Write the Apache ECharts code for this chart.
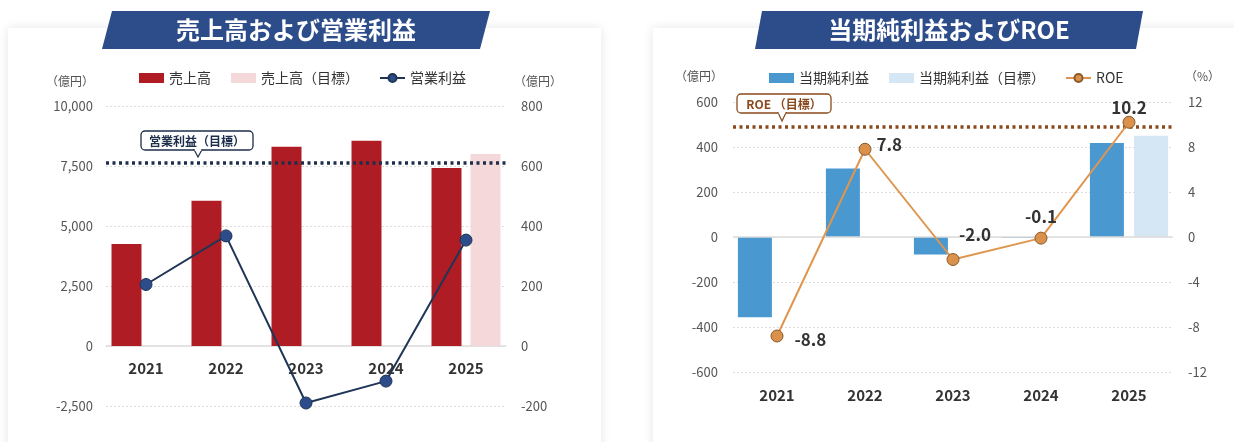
<!DOCTYPE html>
<html><head><meta charset="utf-8">
<script src="https://cdn.jsdelivr.net/npm/echarts@6/dist/echarts.min.js"></script>
<style>html,body{margin:0;padding:0;background:#fff;}#c{width:1234px;height:442px;}</style>
</head><body><div id="c"></div>
<script>
// ---- data ----
const years = ['2021','2022','2023','2024','2025'];
// left chart (億円)
const sales = [4250, 6050, 8300, 8550, 7420];
const salesTarget = [null, null, null, null, 8000];
const opProfit = [205, 367, -190, -117, 353];
const opProfitTargetLevel = 610;
// right chart
const netIncome = [-357, 304, -78, -3, 418];
const netIncomeTarget = [null, null, null, null, 450];
const roe = [-8.8, 7.8, -2.0, -0.1, 10.2];
const roeTargetLevel = 9.8;
// ticks
const leftTicks = {min: -2500, max: 10000, interval: 2500};
const leftTicksR = {min: -200, max: 800, interval: 200};
const rightTicks = {min: -600, max: 600, interval: 200};
const rightTicksR = {min: -12, max: 12, interval: 4};

const FONT = '"Noto Sans CJK JP", "Noto Sans", sans-serif';
const chart = echarts.init(document.getElementById('c'), null, {renderer: 'canvas'});
const axisLbl = {color: '#555', fontSize: 13, fontFamily: FONT};
const catLbl = {color: '#333', fontSize: 15, fontWeight: 'bold', fontFamily: FONT};
const split = {show: true, lineStyle: {color: '#dcdcdc', type: [2, 2], width: 1}};

const roeLabelCfg = [
  {position: 'right', offset: [6, 4]},
  {position: 'right', offset: [0, -5]},
  {position: 'top', offset: [22, -5]},
  {position: 'top', offset: [0, -2]},
  {position: 'top', offset: [0, 5]}
];

const option = {
  animation: false,
  textStyle: {fontFamily: FONT},
  graphic: [
    {type: 'rect', shape: {x: 8, y: 28, width: 593, height: 430}, style: {fill: '#fff', shadowBlur: 10, shadowColor: 'rgba(0,0,0,0.10)'}, z: -10},
    {type: 'rect', shape: {x: 653, y: 28, width: 600, height: 430}, style: {fill: '#fff', shadowBlur: 10, shadowColor: 'rgba(0,0,0,0.10)'}, z: -10},
    {type: 'polygon', shape: {points: [[112, 11], [490, 11], [480, 49], [102, 49]]}, style: {fill: '#2c4c8a'}},
    {type: 'text', x: 296, y: 30, style: {text: '売上高および営業利益', fill: '#fff', font: 'bold 24px ' + FONT, align: 'center', verticalAlign: 'middle'}},
    {type: 'polygon', shape: {points: [[762, 11], [1143, 11], [1136, 49], [755, 49]]}, style: {fill: '#2c4c8a'}},
    {type: 'text', x: 949, y: 30, style: {text: '当期純利益およびROE', fill: '#fff', font: 'bold 24px ' + FONT, align: 'center', verticalAlign: 'middle'}},
    // callout left
    {type: 'rect', shape: {x: 141, y: 131, width: 112, height: 19, r: 4}, style: {fill: '#fff', stroke: '#1d2e4a', lineWidth: 1.3}, z: 10},
    {type: 'polygon', shape: {points: [[194, 149.5], [198, 157], [202, 149.5]]}, style: {fill: '#fff', stroke: '#1d2e4a', lineWidth: 1.2}, z: 11},
    {type: 'rect', shape: {x: 194.6, y: 148.6, width: 6.8, height: 2}, style: {fill: '#fff'}, z: 12},
    {type: 'text', x: 197, y: 141, style: {text: '営業利益（目標）', fill: '#1d2e4a', font: 'bold 12px ' + FONT, align: 'center', verticalAlign: 'middle'}, z: 12},
    // callout right
    {type: 'rect', shape: {x: 737, y: 94, width: 94, height: 19, r: 4}, style: {fill: '#fff', stroke: '#8b4a1e', lineWidth: 1.3}, z: 10},
    {type: 'polygon', shape: {points: [[778, 112.5], [782, 121], [786, 112.5]]}, style: {fill: '#fff', stroke: '#8b4a1e', lineWidth: 1.2}, z: 11},
    {type: 'rect', shape: {x: 778.6, y: 111.6, width: 6.8, height: 2}, style: {fill: '#fff'}, z: 12},
    {type: 'text', x: 784, y: 104, style: {text: 'ROE （目標）', fill: '#8b4a1e', font: 'bold 12px ' + FONT, align: 'center', verticalAlign: 'middle'}, z: 12}
  ],
  legend: [
    {left: 134, top: 66, itemWidth: 25, itemHeight: 10, itemGap: 20,
     textStyle: {color: '#333', fontSize: 14, fontFamily: FONT},
     data: [{name: '売上高', icon: 'rect'}, {name: '売上高（目標）', icon: 'rect'}, {name: '営業利益'}]},
    {left: 764, top: 66, itemWidth: 25, itemHeight: 10, itemGap: 20,
     textStyle: {color: '#333', fontSize: 14, fontFamily: FONT},
     data: [{name: '当期純利益', icon: 'rect'}, {name: '当期純利益（目標）', icon: 'rect'}, {name: 'ROE'}]}
  ],
  grid: [
    {left: 106, top: 106, width: 400, height: 300},
    {left: 733, top: 102, width: 440, height: 270}
  ],
  xAxis: [
    {type: 'category', gridIndex: 0, data: years, axisTick: {show: false}, offset: -60,
     axisLine: {onZero: false, lineStyle: {color: '#dddddd', width: 1.5}}, axisLabel: Object.assign({margin: 15}, catLbl)},
    {type: 'category', gridIndex: 1, data: years, axisTick: {show: false},
     axisLine: {show: false, onZero: false}, axisLabel: Object.assign({margin: 16}, catLbl)}
  ],
  yAxis: [
    Object.assign({type: 'value', gridIndex: 0, position: 'left', splitLine: split,
     name: '（億円）', nameLocation: 'end', nameGap: 19, nameTextStyle: {color: '#555', fontSize: 12, align: 'right', padding: [0, 12, 0, 0]},
     axisLabel: Object.assign({margin: 13, formatter: v => v.toLocaleString('en-US')}, axisLbl)}, leftTicks),
    Object.assign({type: 'value', gridIndex: 0, position: 'right', splitLine: {show: false},
     name: '（億円）', nameLocation: 'end', nameGap: 19, nameTextStyle: {color: '#555', fontSize: 12, align: 'left', padding: [0, 0, 0, 8]},
     axisLabel: Object.assign({margin: 15}, axisLbl)}, leftTicksR),
    Object.assign({type: 'value', gridIndex: 1, position: 'left', splitLine: split,
     name: '（億円）', nameLocation: 'end', nameGap: 20, nameTextStyle: {color: '#555', fontSize: 12, align: 'right', padding: [0, 10, 0, 0]},
     axisLabel: Object.assign({margin: 15}, axisLbl)}, rightTicks),
    Object.assign({type: 'value', gridIndex: 1, position: 'right', splitLine: {show: false},
     name: '（%）', nameLocation: 'end', nameGap: 20, nameTextStyle: {color: '#555', fontSize: 12, align: 'left', padding: [0, 0, 0, 12]},
     axisLabel: Object.assign({margin: 15}, axisLbl)}, rightTicksR)
  ],
  series: [
    {name: '売上高', type: 'bar', xAxisIndex: 0, yAxisIndex: 0, data: sales, barWidth: 30, barGap: '30%',
     itemStyle: {color: '#b01c24'}},
    {name: '売上高（目標）', type: 'bar', xAxisIndex: 0, yAxisIndex: 0, data: salesTarget, barWidth: 30,
     itemStyle: {color: '#f5d9da'}},
    {name: '営業利益', type: 'line', xAxisIndex: 0, yAxisIndex: 1, data: opProfit, z: 5,
     symbol: 'circle', symbolSize: 12, lineStyle: {color: '#1f3556', width: 2},
     itemStyle: {color: '#2c4c8a', borderColor: '#1f3556', borderWidth: 1},
     markLine: {silent: true, symbol: 'none', label: {show: false},
       lineStyle: {color: '#1d2e4a', type: [3, 3.5], width: 3.5},
       data: [{yAxis: opProfitTargetLevel}]}},
    {name: '当期純利益', type: 'bar', xAxisIndex: 1, yAxisIndex: 2, data: netIncome, barWidth: 34, barGap: '30%',
     itemStyle: {color: '#4a98d0'},
     markLine: {silent: true, symbol: 'none', label: {show: false},
       lineStyle: {color: '#dddddd', type: 'solid', width: 1.5}, data: [{yAxis: 0}]}},
    {name: '当期純利益（目標）', type: 'bar', xAxisIndex: 1, yAxisIndex: 2, data: netIncomeTarget, barWidth: 34,
     itemStyle: {color: '#d5e6f5'}},
    {name: 'ROE', type: 'line', xAxisIndex: 1, yAxisIndex: 3, z: 5,
     data: roe.map((v, i) => ({value: v, label: roeLabelCfg[i]})),
     symbol: 'circle', symbolSize: 12, lineStyle: {color: '#e0954f', width: 2},
     itemStyle: {color: '#d9914c', borderColor: '#8a5a2a', borderWidth: 1},
     label: {show: true, color: '#333', fontSize: 17, fontWeight: 'bold', fontFamily: FONT,
       formatter: p => p.value.toFixed(1)},
     markLine: {silent: true, symbol: 'none', label: {show: false},
       lineStyle: {color: '#8b4a1e', type: [3, 3.5], width: 3.5},
       data: [{yAxis: roeTargetLevel}]}}
  ]
};
chart.setOption(option);
</script></body></html>
